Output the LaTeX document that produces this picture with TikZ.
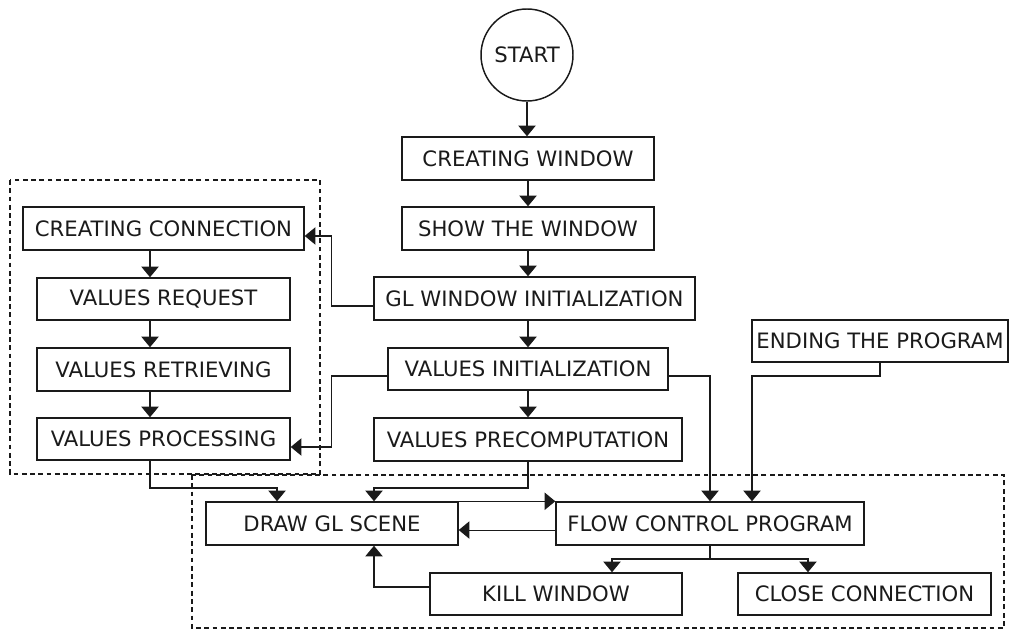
\documentclass[tikz,border=0pt]{standalone}
\usepackage{fontspec}
\setmainfont{DejaVu Sans}
\usetikzlibrary{arrows.meta,calc}
\definecolor{ink}{HTML}{1A1A1A}
\begin{document}
\begin{tikzpicture}[x=0.75pt,y=-0.75pt,
  box/.style={draw=ink, line width=1.1pt, inner sep=0pt, text=ink, font=\fontsize{15.9pt}{18pt}\selectfont},
  conn/.style={draw=ink, line width=0.8pt, -{Triangle[length=8pt,width=13pt]}},
  plain/.style={draw=ink, line width=0.8pt},
  dbox/.style={draw=ink, line width=1.2pt, dash pattern=on 3.6pt off 2.6pt}]
\useasboundingbox (0,0) rectangle (1010,631);
% dashed groups
\draw[dbox] (10,180) rectangle (320,474);
\draw[dbox] (192,475) rectangle (1004,628);
% nodes
\node[box, circle, minimum size={92*0.75pt}] (start) at (527,55) {START};
\node[box, minimum width={252*0.75pt}, minimum height={43*0.75pt}] (cw) at (528,158.5) {CREATING WINDOW};
\node[box, minimum width={252*0.75pt}, minimum height={43*0.75pt}] (sw) at (528,228.5) {SHOW THE WINDOW};
\node[box, minimum width={321*0.75pt}, minimum height={43*0.75pt}] (gl) at (534.5,298.5) {GL WINDOW INITIALIZATION};
\node[box, minimum width={280*0.75pt}, minimum height={42*0.75pt}] (vi) at (528,369) {VALUES INITIALIZATION};
\node[box, minimum width={308*0.75pt}, minimum height={43*0.75pt}] (vp) at (528,439.5) {VALUES PRECOMPUTATION};
\node[box, minimum width={256*0.75pt}, minimum height={42*0.75pt}] (ep) at (880,341) {ENDING THE PROGRAM};
\node[box, minimum width={281*0.75pt}, minimum height={43*0.75pt}] (cc) at (163.5,228.5) {CREATING CONNECTION};
\node[box, minimum width={253*0.75pt}, minimum height={42*0.75pt}] (vr) at (163.5,299) {VALUES REQUEST};
\node[box, minimum width={253*0.75pt}, minimum height={43*0.75pt}] (vrt) at (163.5,369.5) {VALUES RETRIEVING};
\node[box, minimum width={253*0.75pt}, minimum height={42*0.75pt}] (vpr) at (163.5,439) {VALUES PROCESSING};
\node[box, minimum width={252*0.75pt}, minimum height={43*0.75pt}] (dgl) at (332,523.5) {DRAW GL SCENE};
\node[box, minimum width={308*0.75pt}, minimum height={43*0.75pt}] (fcp) at (710,523.5) {FLOW CONTROL PROGRAM};
\node[box, minimum width={252*0.75pt}, minimum height={42*0.75pt}] (kw) at (556,594) {KILL WINDOW};
\node[box, minimum width={253*0.75pt}, minimum height={42*0.75pt}] (ccn) at (864.5,594) {CLOSE CONNECTION};
% helper coordinates
\coordinate (lx) at (150,0);
\coordinate (ya) at (0,488);
\coordinate (yb) at (0,376);
\coordinate (yc) at (0,559);
% main column
\draw[conn] (start.south) -- (start.south |- cw.north);
\draw[conn] (cw.south) -- (sw.north);
\draw[conn] (sw.south) -- (sw.south |- gl.north);
\draw[conn] (vi.north |- gl.south) -- (vi.north);
\draw[conn] (vi.south) -- (vp.north);
% to left group
\draw[conn] ([yshift=-5.6pt]gl.west) -- ++(-42,0) |- ([yshift=-5.6pt]cc.east);
\draw[conn] ([yshift=-5.25pt]vi.west) -- ++(-56,0) |- ([yshift=-6pt]vpr.east);
% left column
\draw[conn] (cc.south -| lx) -- (vr.north -| lx);
\draw[conn] (vr.south -| lx) -- (vrt.north -| lx);
\draw[conn] (vrt.south -| lx) -- (vpr.north -| lx);
% into draw gl scene
\draw[conn] (vpr.south -| lx) -- (lx |- ya) -| ([xshift=-41.25pt]dgl.north);
\draw[conn] (vp.south) -- (vp.south |- ya) -| ([xshift=31.5pt]dgl.north);
% into flow control
\draw[conn] ([yshift=-5.25pt]vi.east) -| (fcp.north);
\draw[conn] (ep.south) -- (ep.south |- yb) -| ([xshift=31.5pt]fcp.north);
\draw[conn] (dgl.north east) -- (fcp.north west);
\draw[conn] ([yshift=-4.9pt]fcp.west) -- ([yshift=-4.9pt]fcp.west -| dgl.east);
% from flow control
\draw[plain] (fcp.south) -- (fcp.south |- yc);
\draw[conn] (fcp.south |- yc) -| ([xshift=42pt]kw.north);
\draw[conn] (fcp.south |- yc) -| ([xshift=-42.4pt]ccn.north);
\draw[conn] ([yshift=5.25pt]kw.west) -| ([xshift=31.5pt]dgl.south);
\end{tikzpicture}
\end{document}
